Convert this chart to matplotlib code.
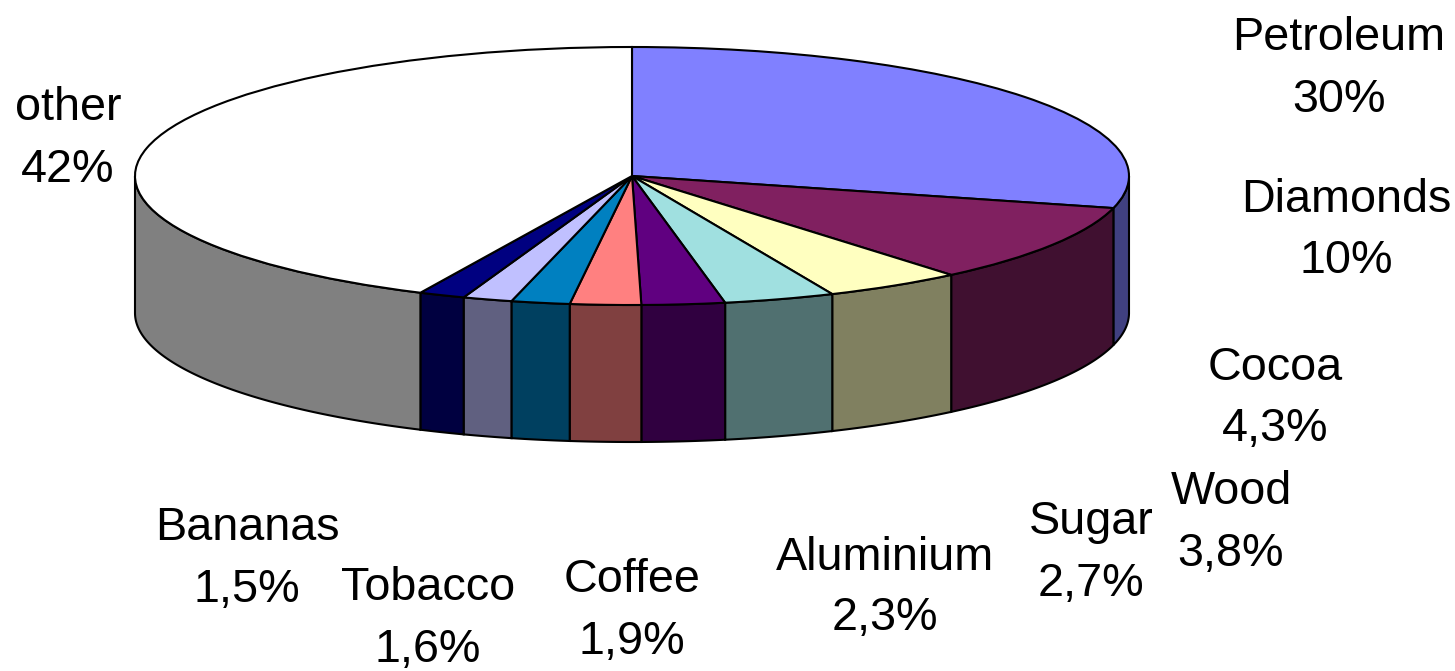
import numpy as np
import matplotlib
matplotlib.use("Agg")
import matplotlib.pyplot as plt

plt.rcParams['font.family'] = ['Liberation Sans', 'DejaVu Sans']

# Category names and the percentages printed in the reference
categories = ['Petroleum', 'Diamonds', 'Cocoa', 'Wood', 'Sugar', 'Aluminium',
              'Coffee', 'Tobacco', 'Bananas', 'other']
printed_labels = ['30%', '10%', '4,3%', '3,8%', '2,7%', '2,3%', '1,9%', '1,6%', '1,5%', '42%']
values = [29.0, 9.9, 4.5, 3.6, 2.7, 2.3, 1.9, 1.6, 1.5, 43.0]
top_colors = ['#8080FF', '#802060', '#FFFFC0', '#A0E0E0', '#600080',
              '#FF8080', '#0080C0', '#C0C0FF', '#000080', '#FFFFFF']
side_colors = ['#404080', '#401030', '#808060', '#507070', '#300040',
               '#804040', '#004060', '#606080', '#000040', '#808080']
label_centers = [(1339, 69), (1346, 231), (1275, 398), (1231, 523), (1091, 553),
                 (885, 588), (632, 611), (428, 619), (247, 559), (68, 139)]

W, H = 1455, 671
CX, CY, RX, RY, DEPTH = 632, 176, 497, 129, 137
LW = 1.5

fig = plt.figure(figsize=(W / 100, H / 100), dpi=100, facecolor='white')
ax = fig.add_axes([0, 0, 1, 1])

v = np.array(values, dtype=float)
edges = np.concatenate([[0], np.cumsum(v) / v.sum() * 2 * np.pi])
d = DEPTH / RY

# Side walls: the part of each slice's rim facing the viewer
for i in range(len(v)):
    a0, a1 = max(edges[i], np.pi / 2), min(edges[i + 1], 3 * np.pi / 2)
    if a1 <= a0:
        continue
    t = np.linspace(a0, a1, 120)
    x, y = np.sin(t), np.cos(t)
    ax.fill(np.r_[x, x[::-1]], np.r_[y, y[::-1] - d], facecolor=side_colors[i],
            edgecolor='black', linewidth=LW, joinstyle='miter', zorder=1)

# Top face
ax.pie(v, colors=top_colors, startangle=90, counterclock=False, radius=1,
       wedgeprops=dict(edgecolor='black', linewidth=LW), normalize=True)
ax.set_aspect('auto')
ax.set_xlim(-CX / RX, (W - CX) / RX)
ax.set_ylim(-(H - CY) / RY, CY / RY)
ax.axis('off')

for name, pct, (px, py) in zip(categories, printed_labels, label_centers):
    fig.text(px / W, 1 - py / H, f'{name}\n{pct}', ha='center', va='center',
             fontsize=33.7, color='black', linespacing=1.5, multialignment='center')

fig.savefig('out.png', dpi=100)
